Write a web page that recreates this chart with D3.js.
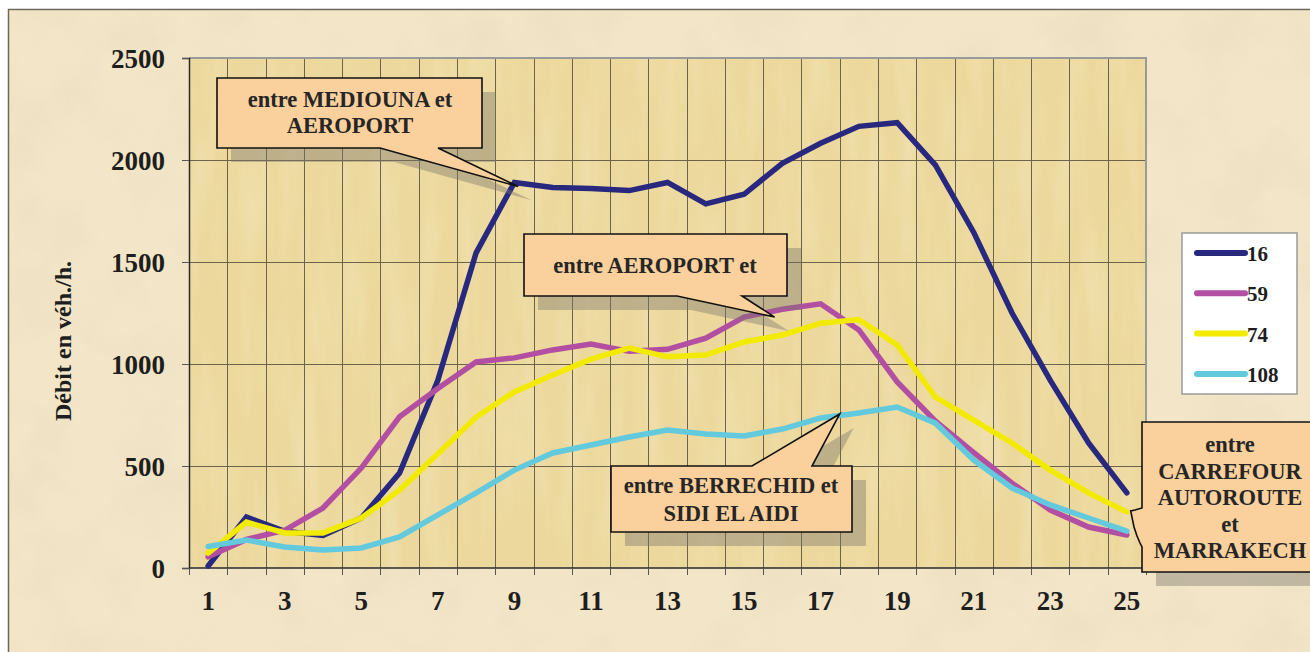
<!DOCTYPE html>
<html>
<head>
<meta charset="utf-8">
<script src="https://cdn.jsdelivr.net/npm/d3@7"></script>
<style>
  body { margin: 0; background: #fff; }
  svg { display: block; }
  text { font-family: "Liberation Serif", "Times New Roman", "DejaVu Serif", serif; font-weight: bold; }
</style>
</head>
<body>
<svg id="chart" width="1310" height="652"></svg>
<script>
// hours on the x axis
const hours = [1,2,3,4,5,6,7,8,9,10,11,12,13,14,15,16,17,18,19,20,21,22,23,24,25];
const xTickLabels = [1,3,5,7,9,11,13,15,17,19,21,23,25];
const yTicks = [0,500,1000,1500,2000,2500];

// debit per station (veh/h)
const s16  = [10, 250, 180, 160, 245, 465, 920, 1545, 1890, 1865, 1860, 1850, 1890, 1785, 1832, 1984, 2082, 2165, 2183, 1975, 1645, 1250, 920, 613, 368];
const s59  = [55, 140, 185, 294, 490, 741, 880, 1010, 1030, 1069, 1098, 1062, 1072, 1127, 1230, 1268, 1295, 1167, 912, 720, 566, 416, 284, 201, 162];
const s74  = [73, 225, 172, 172, 245, 382, 560, 740, 863, 946, 1024, 1078, 1035, 1044, 1108, 1142, 1200, 1218, 1093, 838, 725, 613, 480, 368, 275];
const s108 = [105, 137, 103, 88, 98, 152, 260, 368, 480, 564, 603, 642, 676, 657, 647, 681, 735, 760, 789, 710, 529, 392, 309, 245, 181];

const seriesNames = ["16", "59", "74", "108"];
const seriesColors = ["#28287f", "#b24fa3", "#f2eb00", "#63c9dd"];
const allSeries = [s16, s59, s74, s108];

// callouts: text lines + where the pointer lands (category, value)
const calloutTexts = [
  ["entre MEDIOUNA et", "AEROPORT"],
  ["entre AEROPORT et"],
  ["entre BERRECHID et", "SIDI EL AIDI"],
  ["entre", "CARREFOUR", "AUTOROUTE", "et", "MARRAKECH"]
];
const calloutTargets = [[9.1, 1870], [15.8, 1230], [17.5, 755], [25.1, 280]];

const svg = d3.select("#chart");
const pL = 189, pR = 1146, pT = 58, pB = 568;

//textures
const defs = svg.append("defs");
const f1 = defs.append("filter").attr("id", "paper").attr("x", 0).attr("y", 0).attr("width", 1).attr("height", 1);
f1.append("feTurbulence").attr("type", "fractalNoise").attr("baseFrequency", "0.015").attr("numOctaves", 4).attr("seed", 7);
f1.append("feColorMatrix").attr("type", "matrix")
  .attr("values", "0 0 0 0 0.75  0 0 0 0 0.64  0 0 0 0 0.46  1.0 0 0 0 -0.42");
f1.append("feComposite").attr("in2", "SourceGraphic").attr("operator", "in");

const f2 = defs.append("filter").attr("id", "papyrus").attr("x", 0).attr("y", 0).attr("width", 1).attr("height", 1);
f2.append("feTurbulence").attr("type", "fractalNoise").attr("baseFrequency", "0.05 0.008").attr("numOctaves", 3).attr("seed", 3);
f2.append("feColorMatrix").attr("type", "matrix")
  .attr("values", "0 0 0 0 1  0 0 0 0 0.95  0 0 0 0 0.8  1.0 0 0 0 -0.4");
f2.append("feComposite").attr("in2", "SourceGraphic").attr("operator", "in");

// outer frame
svg.append("rect").attr("x", 8.5).attr("y", 9.5).attr("width", 1310).attr("height", 652)
  .attr("fill", "#f3e6c8").attr("stroke", "#6e6656").attr("stroke-width", 1.5);
svg.append("rect").attr("x", 9).attr("y", 10).attr("width", 1301).attr("height", 642)
  .attr("fill", "#fff").attr("filter", "url(#paper)").attr("opacity", 0.6);

// scales
const x = d3.scaleBand().domain(hours).range([pL, pR]).padding(0);
const step = x.step();
const cx = c => pL + (c - 0.5) * step; // fractional category position
const y = d3.scaleLinear().domain([0, 2500]).range([pB, pT]);

// plot area
svg.append("rect").attr("x", pL).attr("y", pT).attr("width", pR - pL).attr("height", pB - pT)
  .attr("fill", "#ecd89c");
svg.append("rect").attr("x", pL).attr("y", pT).attr("width", pR - pL).attr("height", pB - pT)
  .attr("fill", "#fff").attr("filter", "url(#papyrus)").attr("opacity", 0.45);

// grid
const grid = svg.append("g").attr("stroke", "#4d4637").attr("stroke-width", 1).attr("opacity", 0.8);
grid.selectAll("line.h").data(yTicks.slice(1, -1)).enter().append("line")
  .attr("x1", pL).attr("x2", pR).attr("y1", d => Math.round(y(d)) + 0.5).attr("y2", d => Math.round(y(d)) + 0.5);
grid.selectAll("line.v").data(hours.slice(1)).enter().append("line")
  .attr("x1", d => Math.round(x(d)) + 0.5).attr("x2", d => Math.round(x(d)) + 0.5)
  .attr("y1", pT).attr("y2", pB);

// top / right border of plot
svg.append("path").attr("d", `M${pL},${pT}H${pR}V${pB}`)
  .attr("fill", "none").attr("stroke", "#9a9a9a").attr("stroke-width", 2);

// y axis
const yAxis = svg.append("g").attr("transform", `translate(${pL},0)`)
  .call(d3.axisLeft(y).tickValues(yTicks).tickFormat(d3.format("d")).tickSize(7).tickPadding(17));
yAxis.select(".domain").attr("stroke", "#2a2a2a").attr("stroke-width", 1.5);
yAxis.selectAll(".tick line").attr("stroke", "#555");
yAxis.selectAll(".tick text").attr("font-size", 27).attr("fill", "#1e1e1e").attr("dy", "0.34em");

// x axis: ticks at band edges, labels on odd hours
const xAxis = svg.append("g").attr("transform", `translate(0,${pB})`);
xAxis.append("line").attr("x1", pL).attr("x2", pR).attr("stroke", "#2a2a2a").attr("stroke-width", 1.5);
xAxis.selectAll("line.tk").data(hours.concat([26])).enter().append("line")
  .attr("x1", d => Math.round(cx(d - 0.5)) + 0.5).attr("x2", d => Math.round(cx(d - 0.5)) + 0.5)
  .attr("y1", 0).attr("y2", 7).attr("stroke", "#555");
xAxis.selectAll("text").data(xTickLabels).enter().append("text")
  .attr("x", d => x(d) + step / 2).attr("y", 42)
  .attr("text-anchor", "middle").attr("font-size", 27).attr("fill", "#1e1e1e")
  .text(d => d);

// y title
svg.append("text").attr("transform", "translate(71,341) rotate(-90)")
  .attr("text-anchor", "middle").attr("font-size", 24).attr("fill", "#1e1e1e")
  .text("Débit en véh./h.");

// lines
const line = d3.line().x((d, i) => x(hours[i]) + step / 2).y(d => y(d));
svg.selectAll("path.serie").data(allSeries).enter().append("path")
  .attr("class", "serie")
  .attr("d", line)
  .attr("fill", "none")
  .attr("stroke", (d, i) => seriesColors[i])
  .attr("stroke-width", 5.5)
  .attr("stroke-linejoin", "miter")
  .attr("stroke-linecap", "round");

// callouts
function calloutPath(b, t) {
  const ax = cx(t[0]), ay = y(t[1]);
  if (b.side === "bottom")
    return `M${b.x0},${b.y0}H${b.x1}V${b.y1}H${b.p1}L${ax},${ay}L${b.p0},${b.y1}H${b.x0}Z`;
  if (b.side === "top")
    return `M${b.x0},${b.y0}H${b.p0}L${ax},${ay}L${b.p1},${b.y0}H${b.x1}V${b.y1}H${b.x0}Z`;
  // left side, jagged pointer
  return `M${b.x0},${b.y0}H${b.x1}V${b.y1}H${b.x0}V${b.p1}L${b.x0 - 2},${b.p1 - 4}L${b.x0 - 5},${b.p1 - 11}L${b.x0 - 8},${b.p1 - 20}L${ax},${ay}L${b.x0 - 7},${b.p0 + 2}L${b.x0},${b.p0}Z`;
}
const boxes = [
  {x0: 217, y0: 78, x1: 482, y1: 148, p0: 380, p1: 438, side: "bottom", tx: 350, ty: 107, lh: 26},
  {x0: 524, y0: 234, x1: 787, y1: 296, p0: 677, p1: 742, side: "bottom", tx: 655, ty: 273, lh: 26},
  {x0: 611, y0: 466, x1: 852, y1: 532, p0: 752, p1: 812, side: "top", tx: 731, ty: 493, lh: 27.5},
  {x0: 1142, y0: 422, x1: 1330, y1: 572, p0: 508, p1: 547, side: "left", tx: 1230, ty: 452, lh: 26.5}
];

const callouts = svg.selectAll("g.callout").data(boxes).enter().append("g").attr("class", "callout");
callouts.append("path")
  .attr("d", (b, i) => calloutPath(b, calloutTargets[i]))
  .attr("transform", "translate(14,14)")
  .attr("fill", "#7c776e").attr("opacity", 0.42);
callouts.append("path")
  .attr("d", (b, i) => calloutPath(b, calloutTargets[i]))
  .attr("fill", "#fad09c").attr("stroke", "#111").attr("stroke-width", 1.6)
  .attr("stroke-linejoin", "miter");
callouts.each(function(b, i) {
  d3.select(this).selectAll("text").data(calloutTexts[i]).enter().append("text")
    .attr("x", b.tx).attr("y", (d, j) => b.ty + j * b.lh)
    .attr("text-anchor", "middle").attr("font-size", 22.5).attr("fill", "#262626")
    .text(d => d);
});

// legend
const legend = svg.append("g").attr("transform", "translate(1182,233)");
legend.append("rect").attr("width", 115).attr("height", 161)
  .attr("fill", "#fff").attr("stroke", "#9a9a9a").attr("stroke-width", 1.5);
const rows = legend.selectAll("g.row").data(seriesNames).enter().append("g")
  .attr("transform", (d, i) => `translate(0,${20 + i * 40.3})`);
rows.append("line").attr("x1", 15).attr("x2", 63)
  .attr("stroke", (d, i) => seriesColors[i]).attr("stroke-width", 6).attr("stroke-linecap", "round");
rows.append("text").attr("x", 65).attr("y", 8).attr("font-size", 21).attr("fill", "#1e1e1e")
  .text(d => d);
</script>
</body>
</html>
